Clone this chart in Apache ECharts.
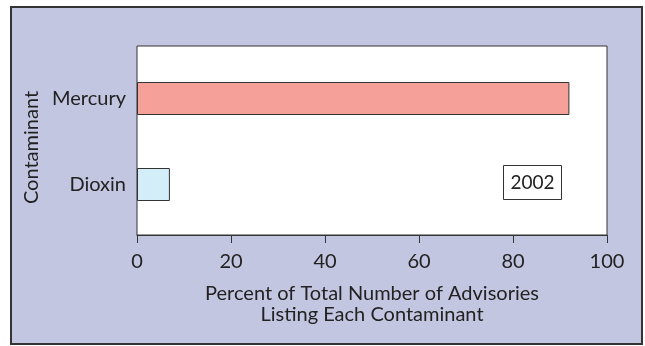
<!DOCTYPE html>
<html>
<head>
<meta charset="utf-8">
<script src="https://cdn.jsdelivr.net/npm/echarts@6/dist/echarts.min.js"></script>
<style>
html,body{margin:0;padding:0;background:#fff;}
#c{width:645px;height:346px;}
</style>
</head>
<body>
<div id="c"></div>
<script>
const categories = ['Dioxin', 'Mercury'];
const values = [7, 92];
const barColors = ['#D3EEF8', '#F5A098'];
const xTicks = [0, 20, 40, 60, 80, 100];
const yearLabel = '2002';
const xTitle = 'Percent of Total Number of Advisories\nListing Each Contaminant';
const yTitle = 'Contaminant';

const FONT = 'Lato';
const chart = echarts.init(document.getElementById('c'), null, {renderer: 'canvas'});
chart.setOption({
  animation: false,
  backgroundColor: '#ffffff',
  graphic: [
    {type: 'rect', z: -10, shape: {x: 11, y: 7, width: 631, height: 337},
     style: {fill: '#C3C6E1', stroke: '#333', lineWidth: 2}},
    {type: 'group', left: 503, top: 165, z: 100, children: [
      {type: 'rect', shape: {x: 0, y: 0, width: 58, height: 34},
       style: {fill: '#ffffff', stroke: '#333', lineWidth: 1}},
      {type: 'text', x: 29, y: 17, style: {text: yearLabel, fill: '#222', font: '19px ' + FONT, align: 'center', verticalAlign: 'middle'}}
    ]}
  ],
  grid: [
    {left: 137, right: 38, top: 46, height: 189, show: true, backgroundColor: '#ffffff', borderColor: '#333', borderWidth: 1},
    {left: 137, right: 38, top: 55.5, height: 172}
  ],
  xAxis: [
    {type: 'value', gridIndex: 0, min: xTicks[0], max: xTicks[xTicks.length - 1], interval: 20,
     axisLine: {show: true, lineStyle: {color: '#333', width: 1}},
     axisTick: {show: true, length: 8, lineStyle: {color: '#333', width: 1}},
     splitLine: {show: false},
     axisLabel: {color: '#222', fontFamily: FONT, fontSize: 20, margin: 17},
     name: xTitle, nameLocation: 'middle', nameGap: 48,
     nameTextStyle: {color: '#222', fontFamily: FONT, fontSize: 20, lineHeight: 21}},
    {type: 'value', gridIndex: 1, min: 0, max: 100, show: false}
  ],
  yAxis: [
    {type: 'value', gridIndex: 0, show: false},
    {type: 'category', gridIndex: 1, data: categories,
     axisLine: {show: false}, axisTick: {show: false},
     axisLabel: {color: '#222', fontFamily: FONT, fontSize: 20, margin: 11},
     name: yTitle, nameLocation: 'middle', nameGap: 95,
     nameTextStyle: {color: '#222', fontFamily: FONT, fontSize: 20, padding: [0, 12, 0, 0]}}
  ],
  series: [{
    type: 'bar', xAxisIndex: 1, yAxisIndex: 1, barWidth: 33,
    data: values.map((v, i) => ({value: v, itemStyle: {color: barColors[i]}})),
    itemStyle: {borderColor: '#333', borderWidth: 1}
  }]
});
</script>
</body>
</html>
